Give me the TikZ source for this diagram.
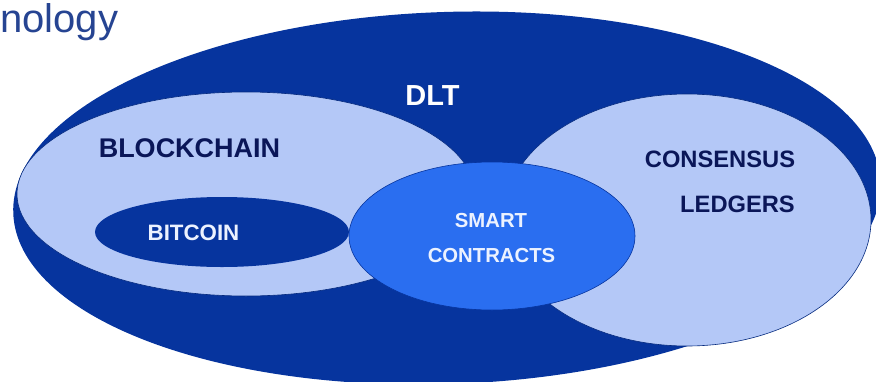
\documentclass[tikz,border=0pt]{standalone}
\usepackage{fontspec}
\setmainfont{Liberation Sans}
\definecolor{dltblue}{RGB}{6,52,158}
\definecolor{lightblue}{RGB}{180,200,247}
\definecolor{smartblue}{RGB}{42,110,240}
\definecolor{navytext}{RGB}{10,22,88}
\definecolor{whitetext}{RGB}{236,242,255}
\definecolor{titleblue}{RGB}{38,68,146}
\begin{document}
\begin{tikzpicture}[x=1pt,y=-1pt,
  darkfill/.style={fill=dltblue},
  lightfill/.style={fill=lightblue, draw=dltblue!80!black, line width=0.6pt},
  smartfill/.style={fill=smartblue, draw=dltblue, line width=0.6pt},
  lbl/.style={inner sep=0pt, anchor=base, font=\bfseries},
]
\useasboundingbox (0,0) rectangle (876,381);
\fill[white] (0,0) rectangle (876,381);
\begin{scope}
\clip (0,0) rectangle (876,381);
% DLT outer ellipse
\path[darkfill, rotate around={2:(447,198)}] (447,198) ellipse [x radius=434, y radius=186];
% Blockchain
\path[lightfill] (246,194) ellipse [x radius=229, y radius=102];
% Consensus ledgers
\path[lightfill] (687,220) ellipse [x radius=184, y radius=126];
% Bitcoin
\path[darkfill] (222,232) ellipse [x radius=127, y radius=35];
% Smart contracts
\path[smartfill] (492,236) ellipse [x radius=143, y radius=74];
\end{scope}
\node[inner sep=0pt, anchor=base west, text=titleblue, font=\fontsize{40}{44}\selectfont] (title) at (0,32) {nology};
\node[lbl, text=white, font=\fontsize{29}{32}\selectfont\bfseries] (dlt) at (432.5,105) {DLT};
\node[lbl, text=navytext, font=\fontsize{27}{30}\selectfont\bfseries] (bc) at (189.5,157) {BLOCKCHAIN};
\node[lbl, text=whitetext, font=\fontsize{22.3}{25}\selectfont\bfseries] (btc) at (193.5,240) {BITCOIN};
\node[lbl, text=navytext, font=\fontsize{23.7}{26}\selectfont\bfseries] (cons) at (720,167) {CONSENSUS};
\node[lbl, anchor=base east, text=navytext, font=\fontsize{23.7}{26}\selectfont\bfseries] (led) at (795,212) {LEDGERS};
\node[lbl, text=whitetext, font=\fontsize{20.3}{23}\selectfont\bfseries] (smart) at (491,227) {SMART};
\node[lbl, text=whitetext, font=\fontsize{20.3}{23}\selectfont\bfseries] (contr) at (491.5,262) {CONTRACTS};
\end{tikzpicture}
\end{document}
